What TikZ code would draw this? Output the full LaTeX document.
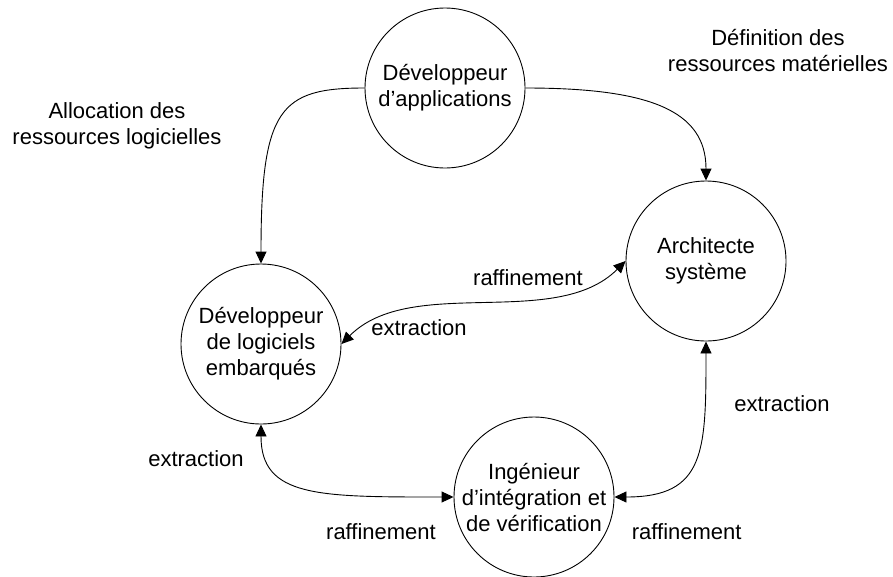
\documentclass[tikz,border=0pt]{standalone}
\usepackage{fontspec}
\setmainfont{Liberation Sans}
\usetikzlibrary{arrows.meta}
\begin{document}
\begin{tikzpicture}[x=1pt,y=-1pt,
  every node/.style={font=\fontsize{22}{26}\selectfont},
  role/.style={draw, circle, minimum size=160pt, inner sep=0pt, align=center, line width=0.9pt},
  lbl/.style={inner sep=0pt, align=center},
  conn/.style={line width=0.9pt, -{Triangle[length=12pt,width=11pt]}},
  biconn/.style={line width=0.9pt, {Triangle[length=12pt,width=11pt]}-{Triangle[length=12pt,width=11pt]}}]
\fill[white] (0,0) rectangle (893,576);
\useasboundingbox (0,0) rectangle (893,576);

\node[role] (A) at (445,88) {Développeur\\d’applications};
\node[role] (B) at (706,261) {Architecte\\système};
\node[role] (C) at (261,344) {Développeur\\de logiciels\\embarqués};
\node[role] (D) at (534,497) {Ingénieur\\d’intégration et\\de vérification};

\draw[conn] (A.west) .. controls +(-85,0) and +(0,-155) .. (C.north);
\draw[conn] (A.east) .. controls +(124,0) and +(0,-70) .. (B.north);
\draw[biconn] (C.east) .. controls +(70,-70) and +(-70,70) .. (B.west);
\draw[biconn] (C.south) .. controls +(0,73) and +(-135,0) .. (D.west);
\draw[biconn] (B.south) .. controls +(0,110) and +(91,0) .. (D.east);

\node[lbl] (l1) at (117,126) {Allocation des\\ressources logicielles};
\node[lbl] (l2) at (778,50.5) {Définition des\\ressources matérielles};
\node[lbl, anchor=base] (l3) at (528,285) {raffinement};
\node[lbl, anchor=base] (l4) at (419,335) {extraction};
\node[lbl, anchor=base] (l5) at (196,466.7) {extraction};
\node[lbl, anchor=base] (l6) at (381,539) {raffinement};
\node[lbl, anchor=base] (l7) at (686.7,539.3) {raffinement};
\node[lbl, anchor=base] (l8) at (782,411) {extraction};
\end{tikzpicture}
\end{document}
